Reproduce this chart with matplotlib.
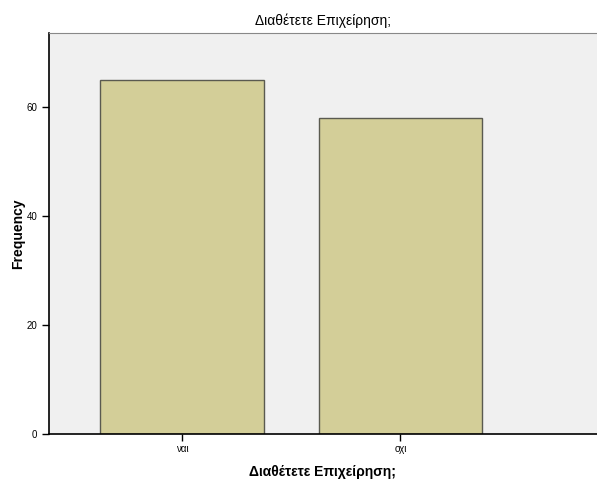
import matplotlib.pyplot as plt

plt.rcParams['font.family'] = ['Liberation Sans', 'DejaVu Sans']

categories = ['ναι', 'οχι']
frequency = [65, 58]

fig = plt.figure(figsize=(5.97, 4.8), dpi=100)
ax = fig.add_axes([0.082, 0.096, 0.918, 0.835])
ax.set_facecolor('#f0f0f0')

x = range(len(categories))
ax.bar(x, frequency, width=0.75, color='#d3ce98', edgecolor='#5a5a50', linewidth=1)

ax.set_xlim(-0.61, 1.9)
ax.set_ylim(0, 73.6)
ax.set_yticks([0, 20, 40, 60])
ax.set_xticks(list(x))
ax.set_xticklabels(categories)
ax.tick_params(axis='both', labelsize=7, length=5, width=1, direction='out', colors='black')
ax.tick_params(axis='x', pad=2)

for s in ['left', 'bottom']:
    ax.spines[s].set_color('black')
    ax.spines[s].set_linewidth(1.2)
ax.spines['top'].set_color('#888888')
ax.spines['right'].set_visible(False)

ax.set_title('Διαθέτετε Επιχείρηση;', fontsize=10, pad=6)
ax.set_xlabel('Διαθέτετε Επιχείρηση;', fontsize=10, fontweight='bold', labelpad=8)
ax.set_ylabel('Frequency', fontsize=10, fontweight='bold', labelpad=1)

fig.savefig('out.png', dpi=100, facecolor='white')
